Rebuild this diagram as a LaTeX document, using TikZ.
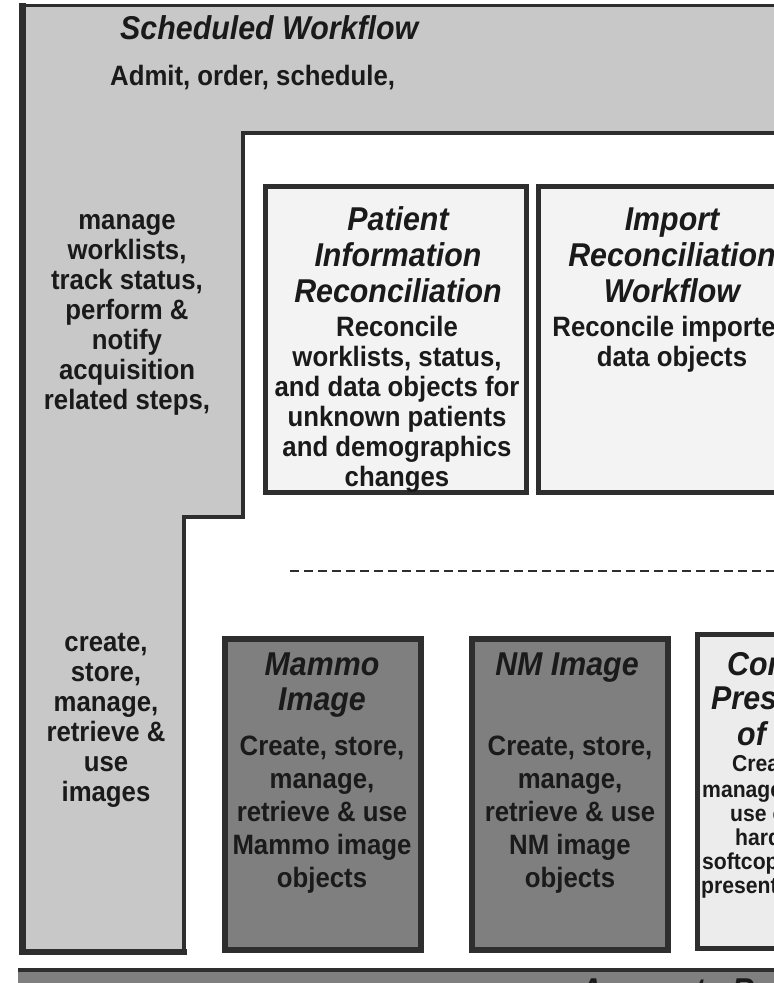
\documentclass[tikz,border=0pt]{standalone}
\usepackage{fontspec}
\setmainfont{Liberation Sans}[FakeStretch=0.92]
\definecolor{colgray}{HTML}{C8C8C8}
\definecolor{edge}{HTML}{2E2E2E}
\definecolor{paper}{HTML}{F3F3F3}
\definecolor{midgray}{HTML}{7F7F7F}
\definecolor{cpfill}{HTML}{ECECEC}
\definecolor{ink}{HTML}{1A1A1A}
\begin{document}
\begin{tikzpicture}[x=1pt,y=-1pt,
  ttl/.style={inner sep=0pt,text=ink,font=\bfseries\itshape\fontsize{33}{36}\selectfont},
  bdy/.style={inner sep=0pt,text=ink,font=\bfseries\fontsize{28}{30}\selectfont},
  sml/.style={inner sep=0pt,text=ink,font=\bfseries\fontsize{23}{24}\selectfont},
  boxline/.style={draw=edge,line width=5pt}]
\useasboundingbox (0,0) rectangle (774,983);
\clip (0,0) rectangle (774,983);
% scheduled workflow region
\fill[colgray] (22,5) -- (780,5) -- (780,133) -- (243,133) -- (243,517) -- (183,517) -- (183,952) -- (22,952) -- cycle;
\draw[edge,line width=3pt] (19,5) -- (780,5);
\draw[edge,line width=7pt] (22,3) -- (22,955);
\draw[edge,line width=6pt] (19,952) -- (187,952);
\draw[edge,line width=4pt] (780,133) -- (243,133) -- (243,517) -- (183,517);
\draw[edge,line width=4pt] (184,515) -- (184,955);
\node[ttl,anchor=base west] (sw) at (120,39) {Scheduled Workflow};
\node[bdy,anchor=base west] (admit) at (110,85) {Admit, order, schedule,};
\foreach \t [count=\i from 0] in {{manage},{worklists,},{track status,},{perform \&},{notify},{acquisition},{related steps,}}
  \node[bdy,anchor=base] (la\i) at (127,229+30*\i) {\t};
\foreach \t [count=\i from 0] in {{create,},{store,},{manage,},{retrieve \&},{use},{images}}
  \node[bdy,anchor=base] (lb\i) at (106,651+30*\i) {\t};
% top boxes
\draw[boxline,fill=paper] (265,186) rectangle (526,492);
\foreach \t [count=\i from 0] in {{Patient},{Information},{Reconciliation}}
  \node[ttl,anchor=base] (pt\i) at (398,230+36*\i) {\t};
\foreach \t [count=\i from 0] in {{Reconcile},{worklists, status,},{and data objects for},{unknown patients},{and demographics},{changes}}
  \node[bdy,anchor=base] (pb\i) at (397,336+30*\i) {\t};
\draw[boxline,fill=paper] (538,186) rectangle (800,492);
\foreach \t [count=\i from 0] in {{Import},{Reconciliation},{Workflow}}
  \node[ttl,anchor=base] (it\i) at (672,230+36*\i) {\t};
\foreach \t [count=\i from 0] in {{Reconcile imported},{data objects}}
  \node[bdy,anchor=base] (ib\i) at (672,336+30*\i) {\t};
% dashed separator
\draw[edge,line width=2.5pt,dash pattern=on 9pt off 5pt] (290,571) -- (780,571);
% bottom boxes
\draw[boxline,fill=midgray,line width=6pt] (225,639) rectangle (421,950);
\foreach \t [count=\i from 0] in {{Mammo},{Image}}
  \node[ttl,anchor=base] (mt\i) at (322,675+35*\i) {\t};
\foreach \t [count=\i from 0] in {{Create, store,},{manage,},{retrieve \& use},{Mammo image},{objects}}
  \node[bdy,anchor=base] (mb\i) at (322,755+33*\i) {\t};
\draw[boxline,fill=midgray,line width=6pt] (472,639) rectangle (668,950);
\node[ttl,anchor=base] (nt) at (567,675) {NM Image};
\foreach \t [count=\i from 0] in {{Create, store,},{manage,},{retrieve \& use},{NM image},{objects}}
  \node[bdy,anchor=base] (nb\i) at (570,755+33*\i) {\t};
\draw[boxline,fill=cpfill] (697,634) rectangle (820,948);
\node[ttl,anchor=base west] (ct0) at (727,675) {Consistent};
\node[ttl,anchor=base west] (ct1) at (711,709) {Presentation};
\node[ttl,anchor=base west] (ct2) at (737,745) {of Images};
\node[sml,anchor=base west] (cb0) at (732,771) {Create, store,};
\node[sml,anchor=base west] (cb1) at (702,797) {manage, retrieve \&};
\node[sml,anchor=base west] (cb2) at (730,821) {use consistent};
\node[sml,anchor=base west] (cb3) at (735,845) {hardcopy \&};
\node[sml,anchor=base west] (cb4) at (702,869) {softcopy image};
\node[sml,anchor=base west] (cb5) at (701,893) {presentation};
% bottom bar
\fill[midgray] (18,970) rectangle (780,990);
\draw[edge,line width=4pt] (18,970) -- (780,970);
\node[ttl,anchor=base west] (bar) at (580,1001) {Access to Radiology Information};
\end{tikzpicture}
\end{document}
